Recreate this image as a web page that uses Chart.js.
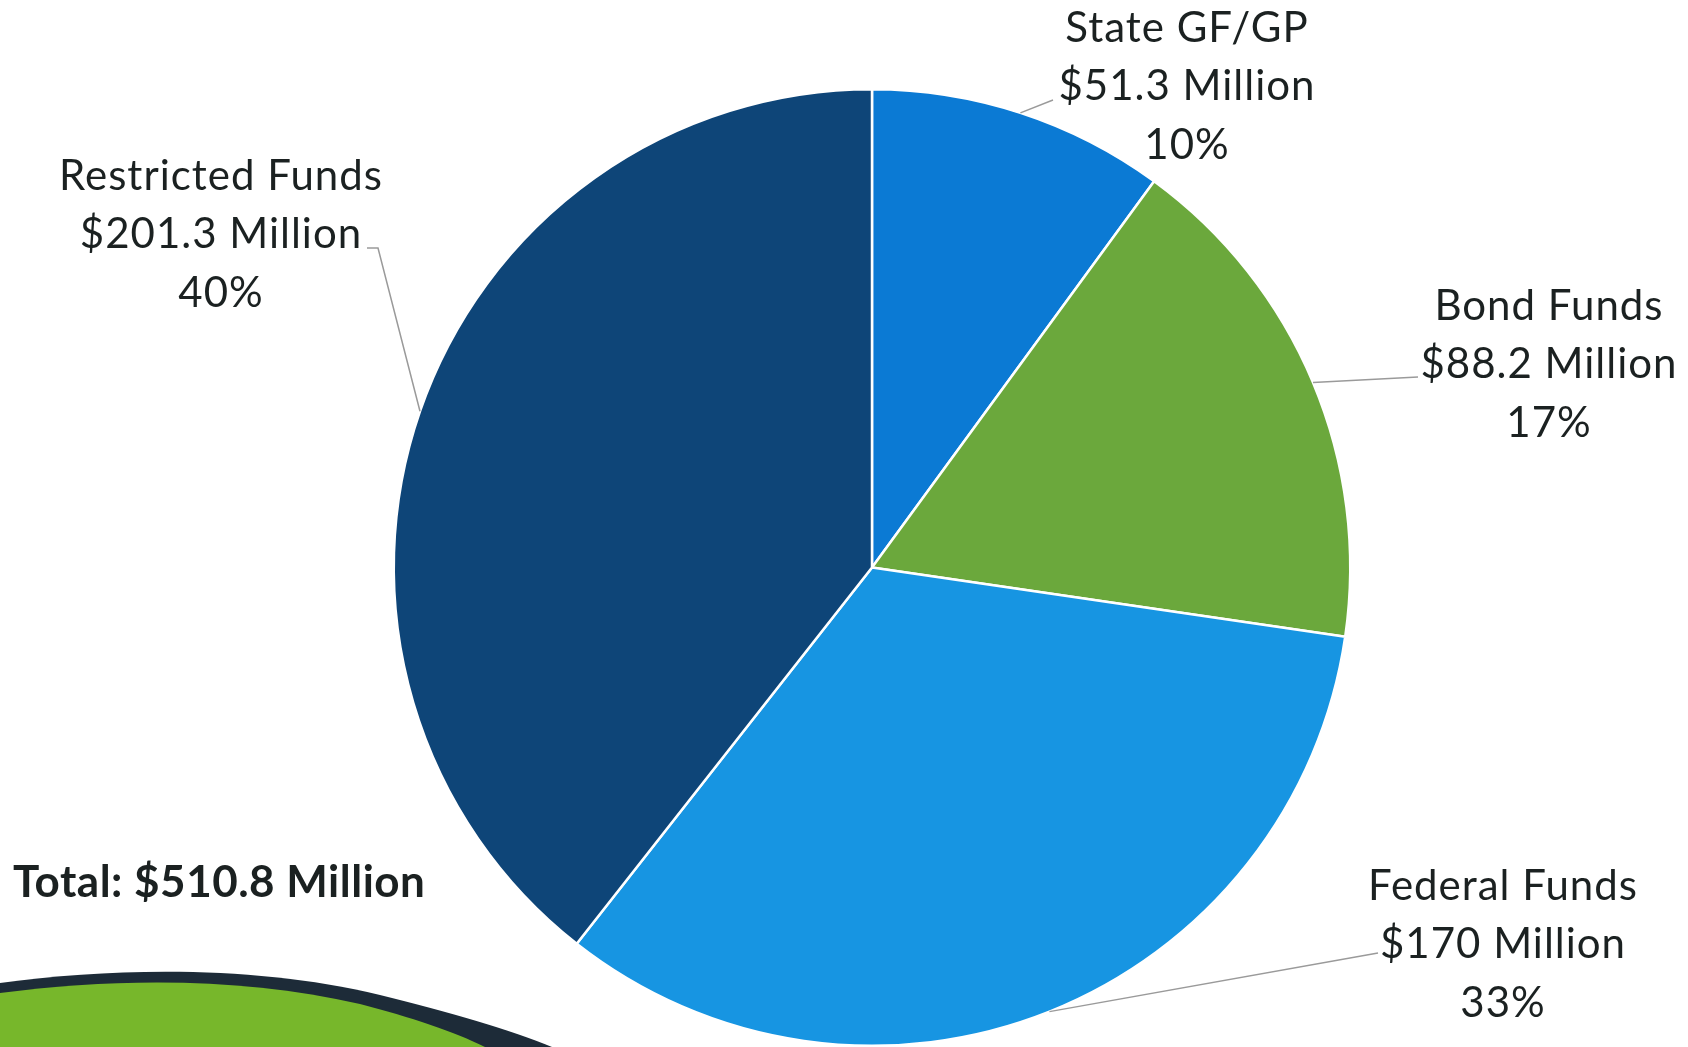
<!DOCTYPE html>
<html>
<head>
<meta charset="utf-8">
<script src="https://cdn.jsdelivr.net/npm/chart.js@4.4.1/dist/chart.umd.min.js"></script>
<style>
  html, body { margin: 0; padding: 0; background: #fff; }
  #wrap { width: 1688px; height: 1047px; position: relative; }
</style>
</head>
<body>
<div id="wrap"><canvas id="fundChart"></canvas></div>
<script>
const labels = ['State GF/GP', 'Bond Funds', 'Federal Funds', 'Restricted Funds'];
const values = [51.3, 88.2, 170, 201.3];
const pctLabels = ['10%', '17%', '33%', '40%'];
const colors = ['#0b7ad4', '#6ba83c', '#1795e2', '#0e4578'];

// where each label block sits (center x, first baseline) and where its leader line ends
const labelPos = [
  { x: 1187, y: 42, end: [[1053, 100]] },
  { x: 1549, y: 320, end: [[1418, 377]] },
  { x: 1503, y: 900, end: [[1378, 953]] },
  { x: 221, y: 190, end: [[378, 248], [367, 248]] }
];

const total = values.reduce((a, b) => a + b, 0);
const FONT = 'Lato, "Open Sans", sans-serif';

const swoosh = {
  id: 'swoosh',
  beforeDraw(chart) {
    const c = chart.ctx;
    c.save();
    c.fillStyle = '#1d2b38';
    c.beginPath();
    c.moveTo(0, 983);
    c.bezierCurveTo(120, 967, 260, 966, 380, 995);
    c.bezierCurveTo(450, 1012, 510, 1030, 552, 1047);
    c.lineTo(0, 1047);
    c.closePath();
    c.fill();
    c.fillStyle = '#77b72b';
    c.beginPath();
    c.moveTo(0, 993);
    c.bezierCurveTo(120, 977, 250, 978, 360, 1004);
    c.bezierCurveTo(410, 1017, 455, 1032, 485, 1047);
    c.lineTo(0, 1047);
    c.closePath();
    c.fill();
    c.restore();
  }
};

const sliceLabels = {
  id: 'sliceLabels',
  afterDraw(chart) {
    const c = chart.ctx;
    const arcs = chart.getDatasetMeta(0).data;
    c.save();
    arcs.forEach((arc, i) => {
      const mid = (arc.startAngle + arc.endAngle) / 2;
      const sx = arc.x + Math.cos(mid) * arc.outerRadius;
      const sy = arc.y + Math.sin(mid) * arc.outerRadius;
      c.strokeStyle = '#9a9a9a';
      c.lineWidth = 1.5;
      c.beginPath();
      c.moveTo(sx, sy);
      labelPos[i].end.forEach(p => c.lineTo(p[0], p[1]));
      c.stroke();

      c.fillStyle = '#1b2121';
      c.font = '42px ' + FONT;
      c.letterSpacing = '1px';
      c.textAlign = 'center';
      c.textBaseline = 'alphabetic';
      const lp = labelPos[i];
      c.fillText(labels[i], lp.x, lp.y);
      c.fillText('$' + values[i] + ' Million', lp.x, lp.y + 58);
      c.fillText(pctLabels[i], lp.x, lp.y + 117);
    });
    c.font = 'bold 44px ' + FONT;
    c.letterSpacing = '0.5px';
    c.textAlign = 'left';
    c.fillStyle = '#1b2121';
    c.fillText('Total: $' + total.toFixed(1) + ' Million', 13, 897);
    c.restore();
  }
};

new Chart(document.getElementById('fundChart'), {
  type: 'pie',
  data: {
    labels: labels,
    datasets: [{
      data: values,
      backgroundColor: colors,
      borderColor: '#ffffff',
      borderWidth: 2.5
    }]
  },
  options: {
    responsive: true,
    maintainAspectRatio: false,
    animation: false,
    layout: { padding: { left: 392, right: 336, top: 88, bottom: 0 } },
    plugins: {
      legend: { display: false },
      tooltip: { enabled: false }
    }
  },
  plugins: [swoosh, sliceLabels]
});
</script>
</body>
</html>
